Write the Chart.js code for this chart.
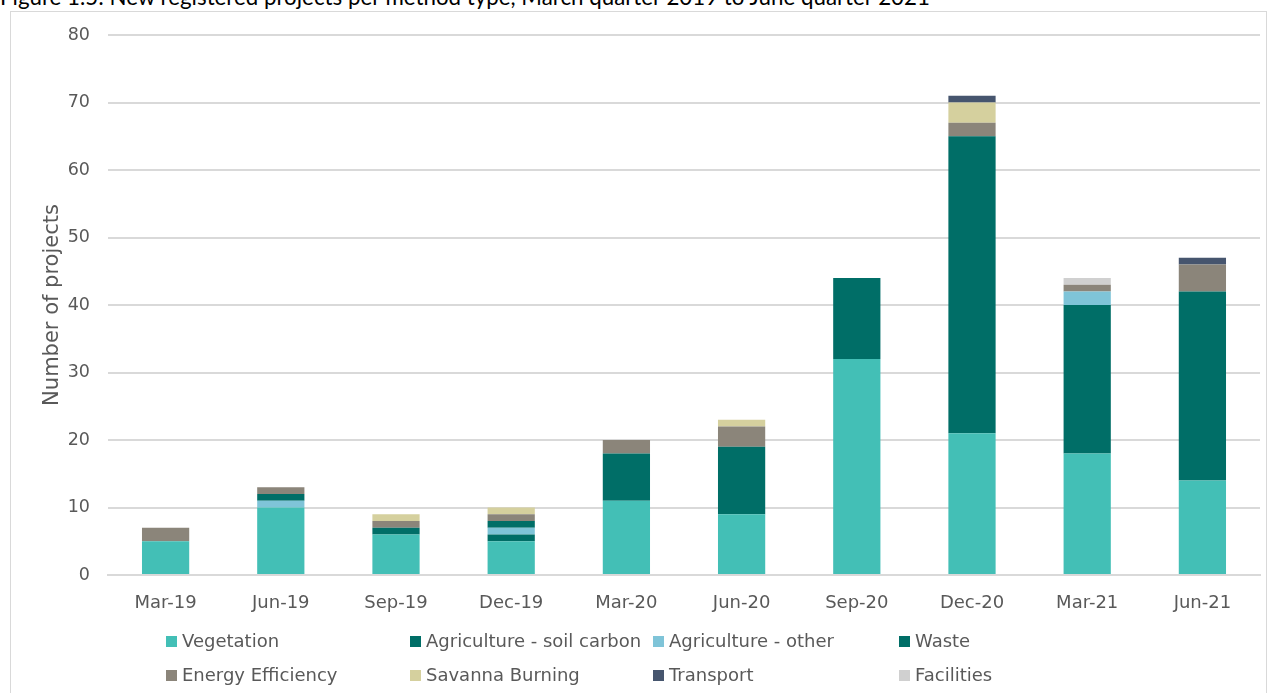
<!DOCTYPE html>
<html>
<head>
<meta charset="utf-8">
<script src="https://cdn.jsdelivr.net/npm/chart.js@4"></script>
<style>
  html, body { margin: 0; padding: 0; background: #fff; overflow: hidden; }
  #wrap { position: relative; width: 1271px; height: 693px; }
  #fig-title {
    position: absolute; left: 0; top: -17px; white-space: nowrap;
    font-family: Lato, "Liberation Sans", sans-serif; font-size: 22.3px; color: #000;
  }
  #frame {
    position: absolute; left: 10px; top: 11px; width: 1257px; height: 700px;
    border: 1.5px solid #d9d9d9; box-sizing: border-box;
  }
  #chart-box { position: absolute; left: 0; top: 0; width: 1271px; height: 693px; }
</style>
</head>
<body>
<div id="wrap">
  <div id="fig-title">Figure 1.5: New registered projects per method type, March quarter 2019 to June quarter 2021</div>
  <div id="frame"></div>
  <div id="chart-box"><canvas id="projectsChart"></canvas></div>
</div>
<script>
// Quarterly counts of new registered projects, by method type
const quarters = ['Mar-19', 'Jun-19', 'Sep-19', 'Dec-19', 'Mar-20', 'Jun-20', 'Sep-20', 'Dec-20', 'Mar-21', 'Jun-21'];
const vegetation  = [5, 10, 6, 5, 11, 9, 32, 21, 18, 14];
const soilCarbon  = [0, 0, 1, 1, 7, 10, 12, 44, 22, 28];
const agriOther   = [0, 1, 0, 1, 0, 0, 0, 0, 2, 0];
const waste       = [0, 1, 0, 1, 0, 0, 0, 0, 0, 0];
const energyEff   = [2, 1, 1, 1, 2, 3, 0, 2, 1, 4];
const savanna     = [0, 0, 1, 1, 0, 1, 0, 3, 0, 0];
const transport   = [0, 0, 0, 0, 0, 0, 0, 1, 0, 1];
const facilities  = [0, 0, 0, 0, 0, 0, 0, 0, 1, 0];
const yTicks = [0, 10, 20, 30, 40, 50, 60, 70, 80];

const series = [
    { label: 'Vegetation', data: vegetation, color: '#43bfb6' },
    { label: 'Agriculture - soil carbon', data: soilCarbon, color: '#006e67' },
    { label: 'Agriculture - other', data: agriOther, color: '#7fc4d8' },
    { label: 'Waste', data: waste, color: '#006e67' },
    { label: 'Energy Efficiency', data: energyEff, color: '#8b857a' },
    { label: 'Savanna Burning', data: savanna, color: '#d5d09e' },
    { label: 'Transport', data: transport, color: '#46556e' },
    { label: 'Facilities', data: facilities, color: '#d0d0d0' }
];

const FONT = 'DejaVu Sans';
const TEXT = '#595959';

// Legend laid out in fixed columns, two rows, under the axis
const gridLegend = {
    id: 'gridLegend',
    afterDraw(chart) {
        const ctx = chart.ctx;
        const colX = [166, 410, 653, 899];
        const rowY = [641, 675];
        ctx.save();
        ctx.font = '18px "' + FONT + '"';
        ctx.textBaseline = 'middle';
        chart.data.datasets.forEach((ds, i) => {
            const x = colX[i % 4];
            const y = rowY[Math.floor(i / 4)];
            ctx.fillStyle = ds.backgroundColor;
            ctx.fillRect(x, y - 5, 11, 11);
            ctx.fillStyle = TEXT;
            ctx.fillText(ds.label, x + 16, y + 1);
        });
        ctx.restore();
    }
};

const ctx = document.getElementById('projectsChart').getContext('2d');
new Chart(ctx, {
    type: 'bar',
    data: {
        labels: quarters,
        datasets: series.map(s => ({
            label: s.label,
            data: s.data,
            backgroundColor: s.color,
            borderWidth: 0,
            barPercentage: 0.41,
            categoryPercentage: 1
        }))
    },
    options: {
        responsive: true,
        maintainAspectRatio: false,
        animation: false,
        layout: { padding: { left: 40, right: 11, top: 35, bottom: 78 } },
        plugins: { legend: { display: false }, tooltip: { enabled: false } },
        scales: {
            x: {
                stacked: true,
                grid: { display: false, drawTicks: false },
                border: { color: '#d9d9d9', width: 2 },
                ticks: { color: TEXT, font: { family: FONT, size: 18 }, padding: 18 },
                afterFit(scale) { scale.height = 40; }
            },
            y: {
                stacked: true,
                min: 0,
                max: 80,
                afterBuildTicks(scale) { scale.ticks = yTicks.map(v => ({ value: v })); },
                grid: { color: '#d9d9d9', lineWidth: 2, drawTicks: false },
                border: { display: false },
                ticks: { color: TEXT, font: { family: FONT, size: 17.5 }, padding: 18 },
                title: {
                    display: true,
                    text: 'Number of projects',
                    color: TEXT,
                    font: { family: FONT, size: 21 },
                    padding: 0
                },
                afterFit(scale) { scale.width = 68; }
            }
        }
    },
    plugins: [gridLegend]
});
</script>
</body>
</html>
